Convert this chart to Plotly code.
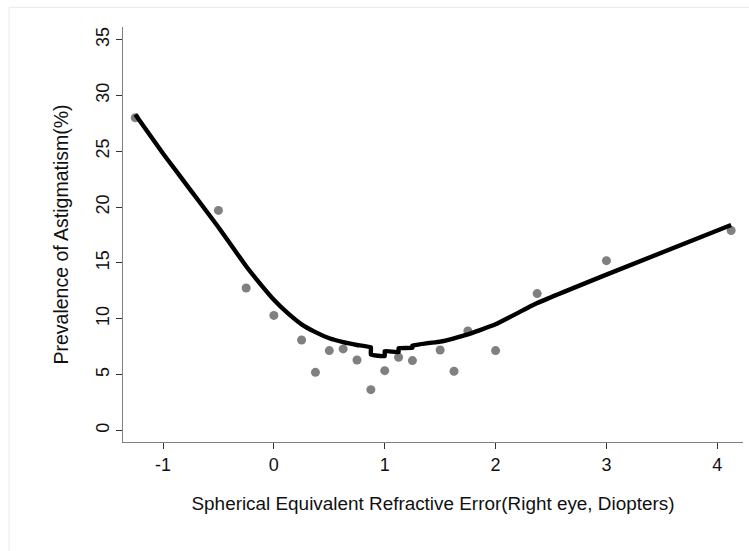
import plotly.graph_objects as go

# Observed prevalence points
ser_x = [-1.25, -0.5, -0.25, 0.0, 0.25, 0.375, 0.5, 0.625, 0.75, 0.875,
         1.0, 1.125, 1.25, 1.5, 1.625, 1.75, 2.0, 2.375, 3.0, 4.125]
prev_y = [28.0, 19.7, 12.75, 10.3, 8.1, 5.2, 7.15, 7.3, 6.3, 3.65,
          5.35, 6.55, 6.25, 7.2, 5.3, 8.9, 7.15, 12.25, 15.2, 17.9]

# Smoothed (lowess) curve vertices
fit_x = [-1.25, -1.125, -1.0, -0.875, -0.75, -0.625, -0.5, -0.375, -0.25, -0.125,
         0.0, 0.125, 0.25, 0.375, 0.5, 0.625, 0.75,
         0.875, 0.875, 1.0, 1.0, 1.125, 1.125, 1.25, 1.25, 1.5, 1.625, 1.75,
         2.0, 2.375, 3.0, 4.125]
fit_y = [28.3, 26.55, 24.8, 23.15, 21.5, 19.85, 18.2, 16.45, 14.7, 13.15,
         11.7, 10.5, 9.5, 8.8, 8.25, 7.9, 7.65,
         7.45, 6.8, 6.65, 7.1, 7.0, 7.35, 7.4, 7.6, 7.95, 8.25, 8.6,
         9.5, 11.4, 13.95, 18.4]

x_ticks = [-1, 0, 1, 2, 3, 4]
y_ticks = [0, 5, 10, 15, 20, 25, 30, 35]

x_title = "Spherical Equivalent Refractive Error(Right eye, Diopters)"
y_title = "Prevalence of Astigmatism(%)"

FONT = "Liberation Sans, Arial, sans-serif"

fig = go.Figure()
fig.add_trace(go.Scatter(
    x=ser_x, y=prev_y, mode="markers",
    marker=dict(color="#808080", size=9, line=dict(width=0)),
    showlegend=False, hoverinfo="x+y"))
fig.add_trace(go.Scatter(
    x=fit_x, y=fit_y, mode="lines",
    line=dict(color="#000000", width=4.4, shape="spline", smoothing=0.3),
    showlegend=False))

fig.update_layout(
    width=749, height=551,
    margin=dict(l=123, r=6, t=27, b=109),
    paper_bgcolor="white", plot_bgcolor="white",
    font=dict(family=FONT, color="#111111", size=18),
    xaxis=dict(
        range=[-1.361, 4.232], tickvals=x_ticks, ticktext=[str(v) for v in x_ticks],
        showline=True, linecolor="#808080", linewidth=1.4, mirror=False,
        ticks="outside", ticklen=6, tickwidth=1, tickcolor="#333333",
        showgrid=False, zeroline=False, automargin=False,
        tickfont=dict(size=18),
        title=dict(text=x_title, font=dict(size=18.9), standoff=22)),
    yaxis=dict(
        range=[-1.04, 36.13], tickvals=y_ticks, ticktext=[str(v) for v in y_ticks],
        showline=True, linecolor="#808080", linewidth=1.4, mirror=False,
        ticks="outside", ticklen=6, tickwidth=1, tickcolor="#333333",
        showgrid=False, zeroline=False, automargin=False,
        tickangle=-90, tickfont=dict(size=18),
        title=dict(text=y_title, font=dict(size=19.5), standoff=18)),
    shapes=[
        dict(type="line", xref="paper", yref="paper",
             x0=-0.1837, x1=1.05, y0=1.0474, y1=1.0474,
             line=dict(color="#e4ecee", width=1)),
        dict(type="line", xref="paper", yref="paper",
             x0=-0.1837, x1=-0.1837, y0=1.0474, y1=-0.27,
             line=dict(color="#e4ecee", width=1)),
    ],
)

fig.write_html("out.html", config={"displayModeBar": False},
               post_script="document.body.style.margin='0px';")
